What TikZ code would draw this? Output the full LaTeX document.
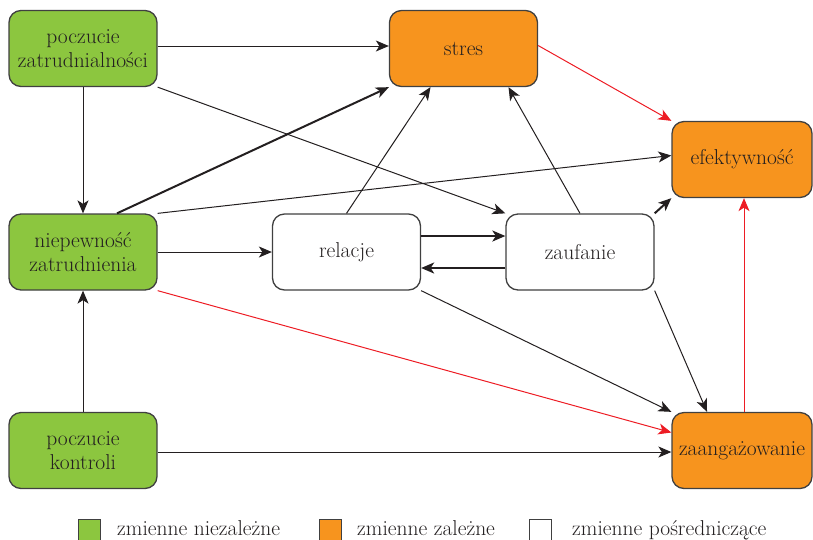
\documentclass[tikz,border=0pt]{standalone}
\usepackage{fontspec}
\usetikzlibrary{arrows.meta,calc}
\definecolor{gr}{HTML}{8CC63F}
\definecolor{orng}{HTML}{F7941E}
\definecolor{rd}{HTML}{ED1C24}
\definecolor{bord}{HTML}{404040}
\definecolor{ink}{HTML}{231F20}
\tikzset{
  box/.style={draw=bord, line width=1.3pt, rounded corners=12pt, minimum width=148pt, minimum height=76pt, inner sep=0pt, align=center, font=\fontsize{21.5}{24}\selectfont, text=ink},
  ind/.style={box, fill=gr},
  dep/.style={box, fill=orng},
  med/.style={box, fill=white},
  arr/.style={draw=ink, line width=1pt, -{Stealth[length=13pt,width=11pt,inset=3.5pt]}},
  tarr/.style={arr, line width=2pt},
  rarr/.style={arr, draw=rd, -{Stealth[length=13pt,width=11pt,inset=3.5pt,fill=rd]}},
  legsq/.style={draw=bord, line width=1.1pt, minimum width=22pt, minimum height=22pt, inner sep=0pt, anchor=north west},
  legtx/.style={anchor=base west, inner sep=0pt, font=\fontsize{21.5}{24}\selectfont, text=ink}
}
\begin{document}
\begin{tikzpicture}[x=1pt,y=-1pt]
\useasboundingbox (0,0) rectangle (813,539);
% nodes
\node[ind] (pz) at (83,48.5) {poczucie\\zatrudnialności};
\node[dep] (st) at (463.5,48.5) {stres};
\node[dep, minimum width=140pt] (ef) at (742,159.5) {efektywność};
\node[ind] (ni) at (83,252) {niepewność\\zatrudnienia};
\node[med] (re) at (346.5,252) {relacje};
\node[med] (za) at (580,252) {zaufanie};
\node[ind] (pk) at (83,450.5) {poczucie\\kontroli};
\node[dep, minimum width=140pt] (zg) at (742,450.5) {zaangażowanie};
% connectors
\draw[arr] ($(pz.east)+(0,-2.5)$) -- ($(st.west)+(0,-2.5)$);
\draw[arr] (pz.south east) -- (za.north west);
\draw[arr] (pz.south) -- (ni.north);
\draw[tarr] ($(ni.north)+(34,0)$) -- (st.south west);
\draw[arr] (ni.north east) -- ($(ef.west)+(0,-4)$);
\draw[arr] (ni.east) -- (re.west);
\draw[rarr] (ni.south east) -- ($(zg.west)+(0,-18)$);
\draw[arr] (pk.north) -- (ni.south);
\draw[arr] ($(pk.east)+(0,1.5)$) -- ($(zg.west)+(0,1.5)$);
\draw[arr] (re.north) -- ($(st.south)+(-33,0)$);
\draw[tarr] ($(re.east)+(0,-16)$) -- ($(za.west)+(0,-16)$);
\draw[tarr] ($(za.west)+(0,16)$) -- ($(re.east)+(0,16)$);
\draw[arr] (re.south east) -- (zg.north west);
\draw[arr] (za.north) -- ($(st.south)+(45,0)$);
\draw[tarr] (za.north east) -- (ef.south west);
\draw[arr] (za.south east) -- ($(zg.north)+(-35,0)$);
\draw[rarr] ($(st.east)+(0,-3)$) -- (ef.north west);
\draw[rarr] ($(zg.north)+(2,0)$) -- ($(ef.south)+(2,0)$);
% legend
\node[legsq, fill=gr] (l1) at (78,519) {};
\node[legtx] (t1) at (117,535) {zmienne niezależne};
\node[legsq, fill=orng] (l2) at (319,519) {};
\node[legtx] (t2) at (357,535) {zmienne zależne};
\node[legsq, fill=white] (l3) at (529,519) {};
\node[legtx] (t3) at (572,535) {zmienne pośredniczące};
\end{tikzpicture}
\end{document}
